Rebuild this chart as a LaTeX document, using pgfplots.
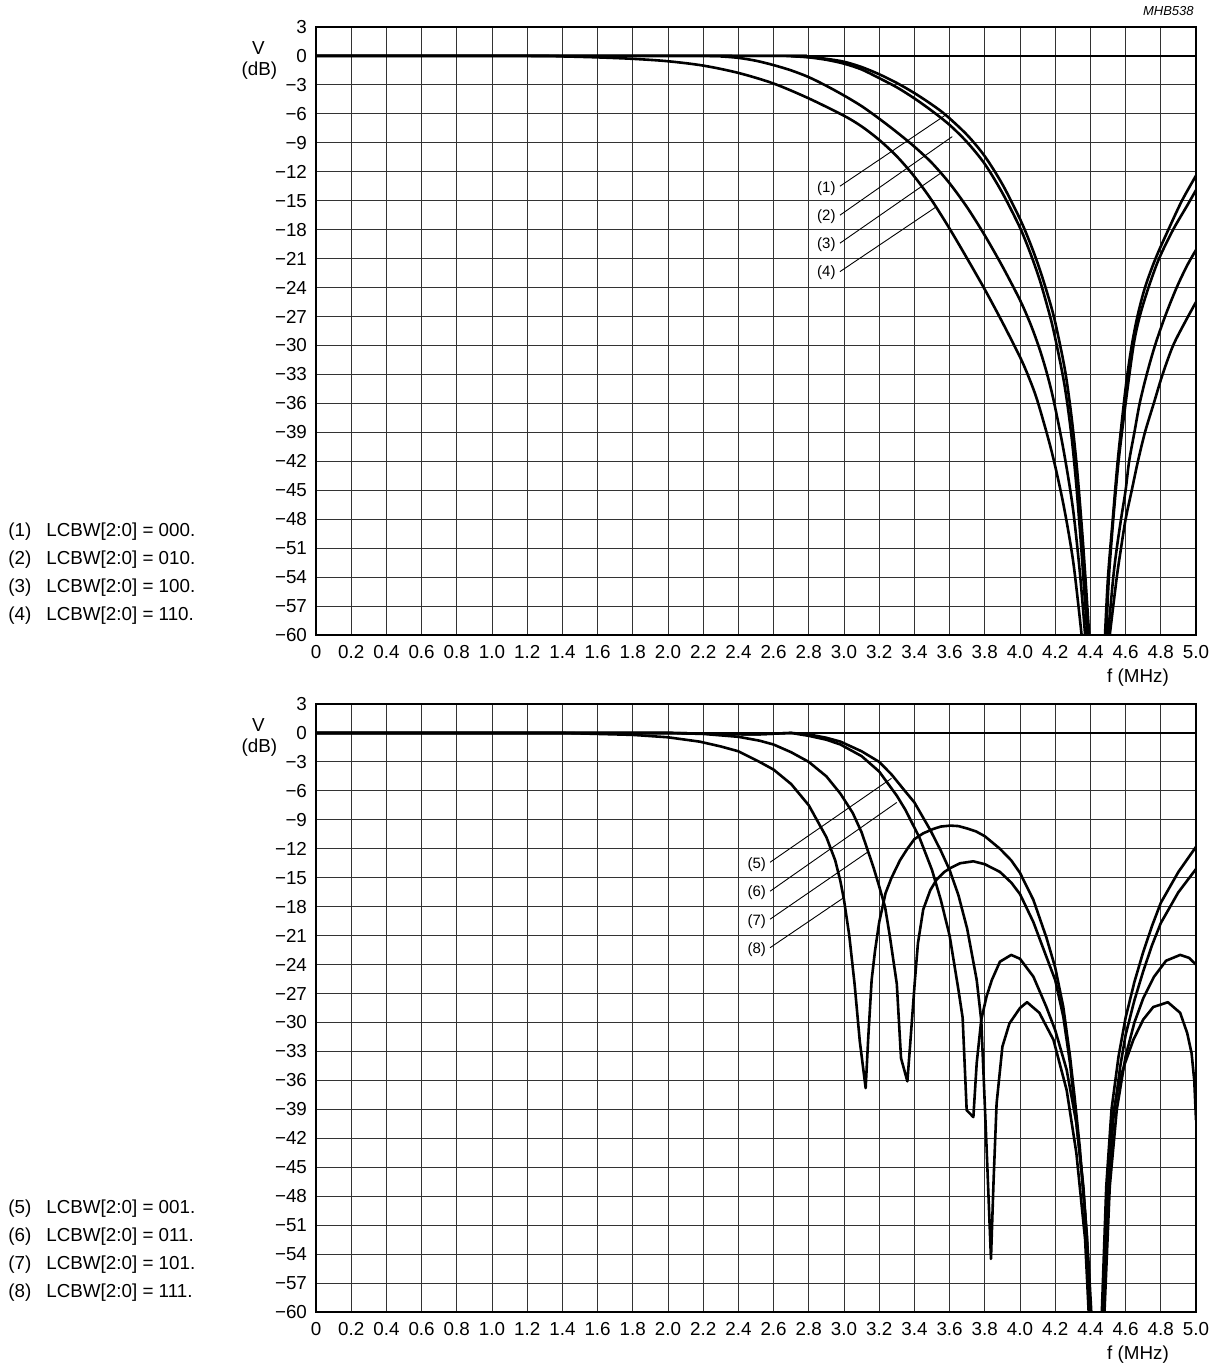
\documentclass[border=0pt]{standalone}
\usepackage{fontspec}
\setmainfont{Liberation Sans}
\usepackage{pgfplots}
\pgfplotsset{compat=1.18}
\newcommand{\tl}{\fontsize{9.4}{11}\selectfont}
\newcommand{\al}{\fontsize{7.5}{9}\selectfont}
\pgfplotsset{
  resp/.style={
    scale only axis, width=440pt, height=304pt, anchor=south west,
    xmin=0, xmax=5, ymin=-60, ymax=3,
    xtick={0,0.2,0.4,0.6,0.8,1.0,1.2,1.4,1.6,1.8,2.0,2.2,2.4,2.6,2.8,3.0,3.2,3.4,3.6,3.8,4.0,4.2,4.4,4.6,4.8,5.0},
    xticklabels={0,0.2,0.4,0.6,0.8,1.0,1.2,1.4,1.6,1.8,2.0,2.2,2.4,2.6,2.8,3.0,3.2,3.4,3.6,3.8,4.0,4.2,4.4,4.6,4.8,5.0},
    ytick={3,0,-3,-6,-9,-12,-15,-18,-21,-24,-27,-30,-33,-36,-39,-42,-45,-48,-51,-54,-57,-60},
    yticklabels={3,0,−3,−6,−9,−12,−15,−18,−21,−24,−27,−30,−33,−36,−39,−42,−45,−48,−51,−54,−57,−60},
    grid=major,
    major grid style={line width=0.5pt, black!80},
    major tick length=0pt,
    axis line style={line width=0.6pt},
    tick label style={font=\tl},
    yticklabel style={xshift=-1pt},
    xticklabel style={yshift=0pt, text height=1.6ex, text depth=0.3ex, anchor=north},
    cycle list={{black,solid,mark=none}},
    every axis plot/.append style={black, solid, line width=1.3pt, mark=none, line join=round},
  }
}
\begin{document}
\begin{tikzpicture}
\useasboundingbox (0,0) rectangle (610pt,684pt);
% ---------------- top chart ----------------
\begin{axis}[resp, at={(158pt,366.5pt)}]
\addplot[line width=1.4pt] coordinates {(0,0) (5,0)};
% curve 1
\addplot[smooth] coordinates {(0,0) (2.6,0) (2.7,-0.02) (2.8,-0.1) (2.9,-0.3) (3.0,-0.6) (3.1,-1.15) (3.2,-1.9) (3.3,-2.8) (3.4,-3.85) (3.5,-5.05) (3.58,-6.15) (3.7,-8.2) (3.8,-10.4) (3.9,-13.3) (4.0,-16.9) (4.06,-19.5) (4.11,-22.0) (4.16,-24.9) (4.2,-27.6) (4.256,-32.6) (4.294,-37.6) (4.325,-43) (4.354,-49.5) (4.375,-55) (4.393,-60)};
\addplot[smooth] coordinates {(4.483,-60) (4.50,-54) (4.527,-48) (4.555,-42) (4.59,-36) (4.61,-33) (4.635,-30) (4.667,-27) (4.71,-24) (4.77,-21) (4.843,-18) (4.92,-15) (5.0,-12.4)};
% curve 2
\addplot[smooth] coordinates {(0,0) (2.6,0) (2.7,-0.03) (2.8,-0.15) (2.9,-0.4) (3.0,-0.8) (3.1,-1.4) (3.2,-2.3) (3.3,-3.25) (3.4,-4.4) (3.5,-5.7) (3.6,-7.15) (3.7,-8.95) (3.8,-11.2) (3.9,-14.2) (4.0,-17.8) (4.06,-20.5) (4.11,-23.1) (4.15,-25.6) (4.19,-28.4) (4.25,-33.8) (4.29,-39) (4.32,-44.5) (4.35,-51.5) (4.382,-60)};
\addplot[smooth] coordinates {(4.49,-60) (4.505,-54) (4.53,-48) (4.56,-42) (4.60,-36) (4.645,-30) (4.68,-27) (4.73,-24) (4.79,-21) (4.87,-18) (4.95,-15.5) (5.0,-13.9)};
% curve 3
\addplot[smooth] coordinates {(0,0) (2.2,0) (2.3,-0.05) (2.4,-0.2) (2.5,-0.5) (2.6,-0.95) (2.7,-1.5) (2.8,-2.2) (2.9,-3.1) (3.0,-4.1) (3.1,-5.2) (3.2,-6.5) (3.3,-7.9) (3.4,-9.4) (3.5,-11.1) (3.6,-13.2) (3.7,-15.7) (3.8,-18.6) (3.9,-21.8) (4.0,-25.3) (4.06,-27.8) (4.11,-30.3) (4.15,-32.7) (4.19,-35.6) (4.247,-40.8) (4.3,-46.8) (4.34,-53.5) (4.37,-60)};
\addplot[smooth] coordinates {(4.50,-60) (4.53,-54) (4.55,-51) (4.574,-48) (4.60,-45) (4.62,-42) (4.65,-39) (4.68,-36) (4.72,-33) (4.767,-30) (4.824,-27) (4.89,-24) (4.95,-21.7) (5.0,-20.1)};
% curve 4
\addplot[smooth] coordinates {(0,0) (1.2,0) (1.4,-0.05) (1.6,-0.15) (1.8,-0.3) (2.0,-0.55) (2.2,-1.0) (2.4,-1.76) (2.6,-2.86) (2.8,-4.4) (3.0,-6.2) (3.1,-7.3) (3.2,-8.7) (3.3,-10.4) (3.4,-12.5) (3.5,-15.0) (3.6,-17.9) (3.7,-21.0) (3.8,-24.2) (3.9,-27.6) (4.0,-31.2) (4.05,-33.3) (4.1,-35.8) (4.18,-41.0) (4.247,-46.5) (4.303,-52.5) (4.35,-60)};
\addplot[smooth] coordinates {(4.51,-60) (4.55,-54) (4.574,-51) (4.60,-48) (4.635,-45) (4.67,-42) (4.71,-39) (4.76,-36) (4.81,-33) (4.87,-30) (4.94,-27.5) (5.0,-25.5)};
% annotations
\draw[line width=0.45pt] (axis cs:2.977,-13.5) -- (axis cs:3.583,-6.05);
\draw[line width=0.45pt] (axis cs:2.977,-16.5) -- (axis cs:3.615,-8.36);
\draw[line width=0.45pt] (axis cs:2.977,-19.4) -- (axis cs:3.545,-12.2);
\draw[line width=0.45pt] (axis cs:2.977,-22.35) -- (axis cs:3.527,-15.6);
\node[font=\al] at (axis cs:2.90,-13.7) {(1)};
\node[font=\al] at (axis cs:2.90,-16.65) {(2)};
\node[font=\al] at (axis cs:2.90,-19.6) {(3)};
\node[font=\al] at (axis cs:2.90,-22.5) {(4)};
\end{axis}
% ---------------- bottom chart ----------------
\begin{axis}[resp, at={(158pt,28pt)}]
\addplot[line width=1.4pt] coordinates {(0,0) (5,0)};
% curve 8
\addplot[black] coordinates {(0,0) (1.4,0) (1.6,-0.1) (1.8,-0.2) (2.0,-0.45) (2.18,-0.9) (2.3,-1.4) (2.4,-1.9) (2.52,-3.0) (2.6,-3.8) (2.7,-5.3) (2.8,-7.5) (2.9,-10.8) (2.95,-13.2) (2.98,-15.4) (3.0,-17.3) (3.03,-21) (3.06,-26) (3.09,-32) (3.123,-36.8) (3.138,-31.5) (3.157,-25.6) (3.176,-22.6) (3.2,-19.6) (3.236,-16.6) (3.27,-15.0) (3.318,-13.2) (3.36,-12.0) (3.40,-11.0) (3.45,-10.4) (3.507,-9.95) (3.55,-9.7) (3.604,-9.6) (3.65,-9.65) (3.7,-9.9) (3.75,-10.2) (3.8,-10.7) (3.886,-12.0) (3.95,-13.2) (4.0,-14.5) (4.076,-17.3) (4.15,-21.2) (4.2,-24.3) (4.246,-28.4) (4.284,-33.5) (4.31,-37.7) (4.34,-43) (4.37,-50) (4.395,-60)};
\addplot[black] coordinates {(4.465,-60) (4.49,-47) (4.52,-39) (4.56,-33.5) (4.6,-29.5) (4.65,-25.8) (4.7,-22.7) (4.75,-20.0) (4.8,-17.6) (4.9,-14.4) (5.0,-11.8)};
% curve 7
\addplot[black] coordinates {(0,0) (2.0,0) (2.2,-0.1) (2.4,-0.4) (2.52,-0.8) (2.6,-1.2) (2.7,-2.0) (2.8,-3.0) (2.9,-4.5) (2.98,-6.3) (3.05,-8.3) (3.1,-10.3) (3.167,-13.9) (3.2,-15.9) (3.233,-18.0) (3.26,-21.0) (3.28,-23.5) (3.30,-26.0) (3.324,-33.7) (3.36,-36.1) (3.375,-32.5) (3.403,-25.6) (3.42,-21.8) (3.45,-18.3) (3.49,-16.3) (3.526,-15.2) (3.57,-14.4) (3.604,-14.0) (3.66,-13.5) (3.735,-13.3) (3.8,-13.6) (3.886,-14.4) (3.95,-15.5) (4.0,-16.7) (4.076,-19.6) (4.15,-23.2) (4.2,-25.6) (4.246,-29.4) (4.284,-34.2) (4.31,-38.6) (4.35,-45.5) (4.38,-52) (4.40,-60)};
\addplot[black] coordinates {(4.47,-60) (4.50,-47.5) (4.53,-40) (4.57,-34.5) (4.6,-31.3) (4.65,-27.7) (4.7,-24.7) (4.75,-22.0) (4.8,-19.7) (4.9,-16.5) (5.0,-14.1)};
% curve 6
\addplot[black] coordinates {(0,0) (2.0,0) (2.3,-0.1) (2.5,-0.15) (2.7,0) (2.8,-0.3) (2.9,-0.7) (2.98,-1.2) (3.1,-2.4) (3.2,-4.0) (3.3,-6.5) (3.35,-8.0) (3.43,-10.9) (3.5,-14.2) (3.55,-17.3) (3.6,-21) (3.65,-26.6) (3.674,-29.5) (3.697,-39.1) (3.735,-39.8) (3.754,-34.2) (3.78,-29.7) (3.81,-27.3) (3.84,-25.6) (3.886,-23.7) (3.95,-23.0) (4.0,-23.4) (4.076,-25.25) (4.15,-28.4) (4.2,-30.8) (4.265,-34.9) (4.32,-40.4) (4.36,-47) (4.39,-55) (4.405,-60)};
\addplot[black] coordinates {(4.48,-60) (4.51,-47) (4.55,-39) (4.6,-33.5) (4.65,-30) (4.7,-27.5) (4.76,-25.3) (4.83,-23.6) (4.91,-23.0) (4.96,-23.3) (5.0,-24.0)};
% curve 5
\addplot[black] coordinates {(0,0) (2.0,0) (2.3,-0.1) (2.5,-0.15) (2.7,0) (2.8,-0.15) (2.9,-0.5) (2.98,-0.9) (3.1,-1.9) (3.2,-3.0) (3.27,-4.3) (3.35,-6.1) (3.4,-7.2) (3.49,-10.05) (3.55,-12.2) (3.6,-14.2) (3.65,-16.8) (3.7,-20.3) (3.754,-25.6) (3.78,-29.8) (3.81,-42.9) (3.835,-54.5) (3.85,-46.3) (3.867,-38.4) (3.90,-32.5) (3.94,-30.1) (4.0,-28.5) (4.04,-27.9) (4.11,-29.0) (4.19,-31.8) (4.265,-37.0) (4.32,-43.5) (4.37,-52.5) (4.39,-60)};
\addplot[black] coordinates {(4.473,-60) (4.5,-48) (4.53,-39.4) (4.565,-36) (4.597,-34.2) (4.644,-31.8) (4.70,-29.7) (4.757,-28.4) (4.84,-27.9) (4.91,-29.0) (4.95,-31.1) (4.975,-33.2) (4.99,-36) (5.0,-40.1)};
% annotations
\draw[line width=0.45pt] (axis cs:2.58,-13.4) -- (axis cs:3.27,-4.7);
\draw[line width=0.45pt] (axis cs:2.58,-16.4) -- (axis cs:3.30,-7.2);
\draw[line width=0.45pt] (axis cs:2.58,-19.3) -- (axis cs:3.138,-12.3);
\draw[line width=0.45pt] (axis cs:2.58,-22.25) -- (axis cs:2.996,-17.1);
\node[font=\al] at (axis cs:2.504,-13.6) {(5)};
\node[font=\al] at (axis cs:2.504,-16.5) {(6)};
\node[font=\al] at (axis cs:2.504,-19.5) {(7)};
\node[font=\al] at (axis cs:2.504,-22.4) {(8)};
\end{axis}
% ---------------- outside texts ----------------
\node[font=\fontsize{6.5}{8}\selectfont\itshape, anchor=east, inner sep=0pt] at (597pt,678.5pt) {MHB538};
\node[font=\tl] at (129.2pt,659.8pt) {V};
\node[font=\tl] at (129.7pt,648.7pt) {(dB)};
\node[font=\tl] at (129.2pt,321.3pt) {V};
\node[font=\tl] at (129.7pt,310.2pt) {(dB)};
\node[font=\tl] at (569pt,345pt) {f (MHz)};
\node[font=\tl] at (569pt,6.5pt) {f (MHz)};
\foreach \yy/\nn/\cc in {418/1/000, 404/2/010, 390/3/100, 376/4/110, 79.5/5/001, 65.5/6/011, 51.5/7/101, 37.5/8/111}{
  \node[font=\tl, anchor=west, inner sep=0pt] at (4pt,\yy pt) {(\nn)};
  \node[font=\tl, anchor=west, inner sep=0pt] at (23pt,\yy pt) {LCBW[2:0] = \cc.};
}
\end{tikzpicture}
\end{document}
